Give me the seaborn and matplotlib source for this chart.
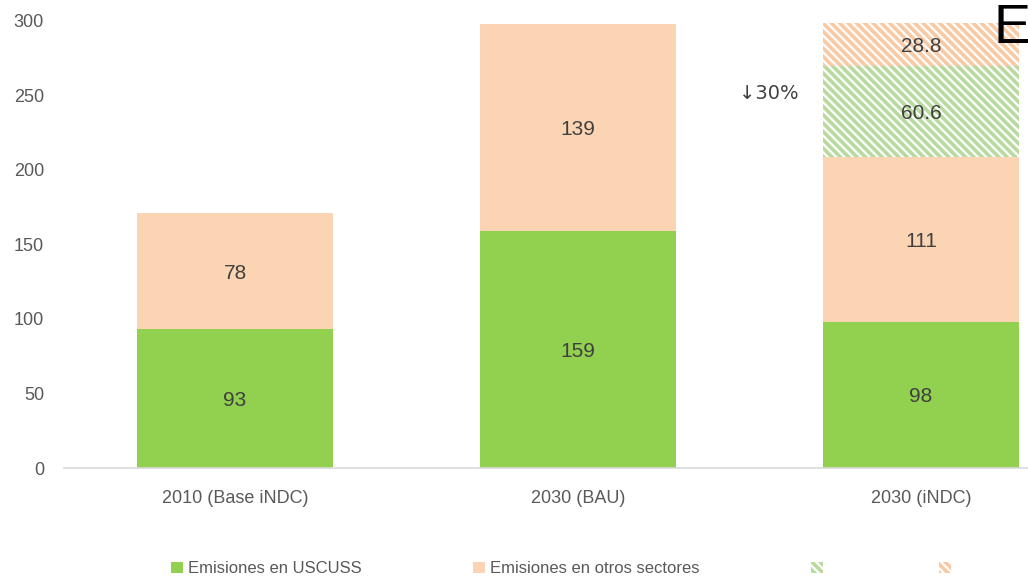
"""
Emisiones 2010 / 2030 (BAU) / 2030 (iNDC) - stacked bars
"""

import pandas as pd
import matplotlib.pyplot as plt
import matplotlib.patches as mpatches
import seaborn as sns

# ── Data ──────────────────────────────────────
CATEGORIES   = ["2010 (Base iNDC)", "2030 (BAU)", "2030 (iNDC)"]
USCUSS       = [93, 159, 98]
OTROS        = [78, 139, 111]
# hatched reductions only on the iNDC bar
RED_USCUSS   = [0, 0, 60.6]
RED_OTROS    = [0, 0, 28.8]
LEGEND_NAMES = ["Emisiones en USCUSS", "Emisiones en otros sectores", "", ""]

# ── Style ─────────────────────────────────────
GREEN      = "#92D050"
PEACH      = "#FBD4B4"
GREEN_HTCH = "#B9DA9E"
PEACH_HTCH = "#F9C9A3"
TXT_GRAY   = "#595959"
LBL_DARK   = "#404040"
HATCH      = "\\\\\\\\"

sns.set_style("white")
plt.rcParams["font.family"] = ["Liberation Sans", "DejaVu Sans"]
plt.rcParams["hatch.linewidth"] = 2.6


def main():
    df = pd.DataFrame({
        "cat": CATEGORIES,
        "uscuss": USCUSS,
        "otros": OTROS,
        "red_u": RED_USCUSS,
        "red_o": RED_OTROS,
    })
    df["base"] = df["uscuss"] + df["otros"]

    fig = plt.figure(figsize=(10.28, 5.78), dpi=100)
    ax = fig.add_axes([0.0618, 0.1903, 1.001, 0.7734])

    w = 0.57
    # peach (cumulative) first, then green on top of it
    sns.barplot(data=df, x="cat", y="base", color=PEACH, width=w,
                saturation=1, ax=ax, linewidth=0)
    sns.barplot(data=df, x="cat", y="uscuss", color=GREEN, width=w,
                saturation=1, ax=ax, linewidth=0)

    # hatched reduction blocks
    xs = range(len(df))
    ax.bar(xs, df["red_u"], bottom=df["base"], width=w, color="white",
           edgecolor=GREEN_HTCH, hatch=HATCH, linewidth=0)
    ax.bar(xs, df["red_o"], bottom=df["base"] + df["red_u"], width=w,
           color="white", edgecolor=PEACH_HTCH, hatch=HATCH, linewidth=0)

    # segment labels
    kw = dict(ha="center", va="center_baseline", fontsize=15, color=LBL_DARK)
    for i, row in df.iterrows():
        ax.text(i, row["uscuss"] / 2, f"{row['uscuss']:g}", **kw)
        ax.text(i, row["uscuss"] + row["otros"] / 2, f"{row['otros']:g}", **kw)
        if row["red_u"] > 0:
            ax.text(i, row["base"] + row["red_u"] / 2, f"{row['red_u']:g}", **kw)
            ax.text(i, row["base"] + row["red_u"] + row["red_o"] / 2,
                    f"{row['red_o']:g}", **kw)

    ax.text(1.557, 253, "↓30%", ha="center", va="center_baseline", fontsize=14,
            color=LBL_DARK, family=["DejaVu Sans"])

    ax.set_xlim(-0.5, 2.5)
    ax.set_ylim(0, 300)
    ax.set_yticks(range(0, 301, 50))
    ax.set_xlabel("")
    ax.set_ylabel("")
    ax.tick_params(axis="both", length=0, labelsize=13, colors=TXT_GRAY)
    ax.tick_params(axis="x", pad=16)
    ax.tick_params(axis="y", pad=14)
    for s in ["top", "right", "left"]:
        ax.spines[s].set_visible(False)
    ax.spines["bottom"].set_color("#D9D9D9")
    ax.spines["bottom"].set_linewidth(1.2)

    # legend
    handles = [
        mpatches.Patch(facecolor=GREEN, edgecolor="none"),
        mpatches.Patch(facecolor=PEACH, edgecolor="none"),
        mpatches.Patch(facecolor="white", edgecolor=GREEN_HTCH, hatch=HATCH, linewidth=0),
        mpatches.Patch(facecolor="white", edgecolor=PEACH_HTCH, hatch=HATCH, linewidth=0),
    ]
    fig.legend(handles, LEGEND_NAMES, loc="center left", ncol=4,
               bbox_to_anchor=(0.152, 0.016), frameon=False, fontsize=12,
               labelcolor=TXT_GRAY, handlelength=0.7, handleheight=0.7,
               handletextpad=0.3, columnspacing=6.7)

    # stray big letter cut at the top right
    fig.text(993 / 1028, 1 - 43 / 578, "E", fontsize=40, color="black",
             ha="left", va="baseline", family=["Liberation Sans"])

    fig.savefig("out.png", dpi=100)


if __name__ == "__main__":
    main()
